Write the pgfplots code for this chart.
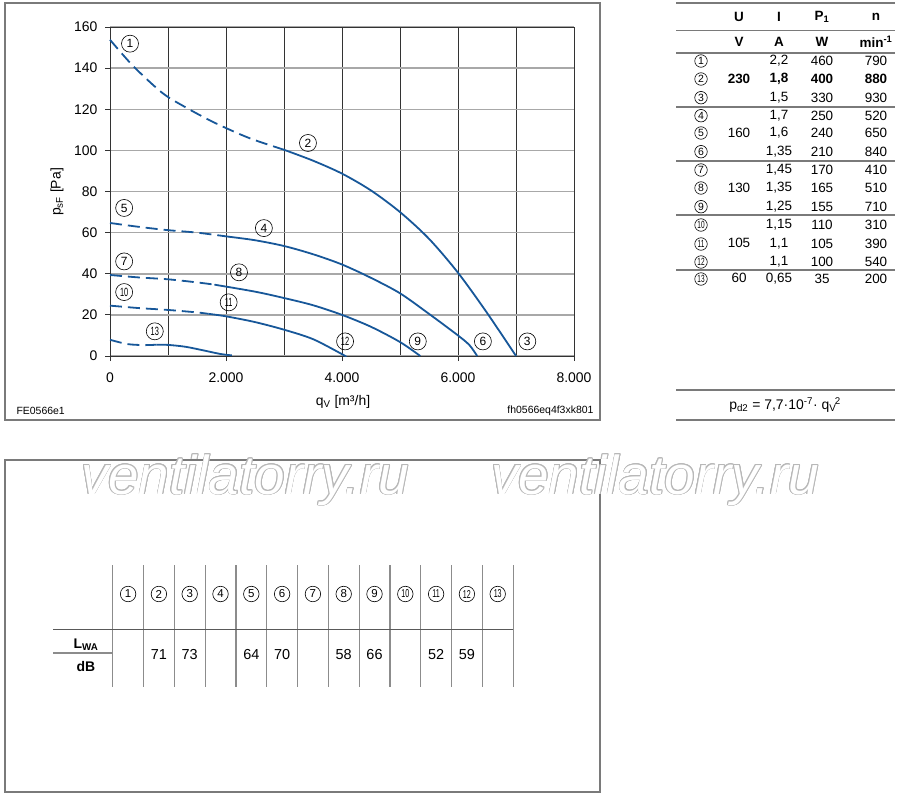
\documentclass[border=0pt]{standalone}
\usepackage{pgfplots}
\pgfplotsset{compat=1.18}
\usetikzlibrary{calc}
\usepackage{fontspec}
\setmainfont{Liberation Sans}
\usepackage{graphicx}
\definecolor{curve}{HTML}{175799}
\definecolor{frame}{HTML}{7A7A7A}
\definecolor{hgrid}{HTML}{A8A8A8}
\definecolor{vgrid}{HTML}{333333}
\newcommand\fs[1]{\fontsize{#1}{#1}\selectfont}
\newcommand\tw[1]{\scalebox{0.62}[1]{#1}}
\tikzset{cn/.style={circle,draw,line width=0.6bp,minimum size=#1,inner sep=0pt,font=\fs{12}}}

\begin{document}
\begin{tikzpicture}[x=1bp,y=-1bp]
\useasboundingbox (0,0) rectangle (900,797);
\draw[frame,line width=1.5bp] (5,3) rectangle (600,420);
\draw[frame,line width=1.5bp] (5,460) rectangle (600,792);

% watermark, drawn as an outline
\foreach \wx in {245,655} {
  \foreach \a in {0,22.5,...,337.5}
    \node[anchor=base,text=black!28,font=\fs{55}\itshape] at ($(\wx,494)+(\a:0.75)$) {ventilatorry.ru};
  \node[anchor=base,text=white,font=\fs{55}\itshape] at (\wx,494) {ventilatorry.ru};
}

\begin{axis}[at={(110bp,-356bp)},anchor=south west,scale only axis,
  width=464bp,height=329bp,
  xmin=0,xmax=8000,ymin=0,ymax=160,
  xtick={0,2000,4000,6000,8000},xticklabels={0,2.000,4.000,6.000,8.000},
  minor xtick={1000,3000,5000,7000},
  ytick={0,20,...,160},
  xmajorgrids,xminorgrids,ymajorgrids,
  x grid style={vgrid,line width=0.9bp},
  y grid style={hgrid,line width=1.5bp},
  minor grid style={vgrid,line width=0.9bp},
  axis line style={vgrid,line width=1bp},
  tick style={vgrid,line width=0.9bp},
  tick align=outside,major tick length=5bp,minor tick length=0pt,
  tick pos=left,
  ticklabel style={font=\fs{14}},
  xticklabel style={yshift=-8bp},
  yticklabel style={xshift=-4bp},
  /pgf/number format/assume math mode=true,
  clip=false]
% curve 1-2-3
\addplot[curve,line width=1.8bp,smooth,dash pattern=on 12bp off 6bp] coordinates {
  (0,153.8) (400,141) (900,128) (1300,121) (1800,113.5) (2400,106) (3000,100.3)};
\addplot[curve,line width=1.8bp,smooth] coordinates {
  (3000,100.3) (3500,95) (4000,88.7) (4500,80.5) (5000,70) (5500,57) (6000,40.5) (6500,21) (7000,0)};
% curve 4-5-6
\addplot[curve,line width=1.8bp,smooth,dash pattern=on 12bp off 6bp] coordinates {
  (0,64.7) (500,62.8) (1000,61.2) (1500,60) (2050,58)};
\addplot[curve,line width=1.8bp,smooth] coordinates {
  (2050,58) (2500,56.3) (3000,53.5) (3500,49.5) (4000,44.5) (4500,38) (5000,30.5) (5500,20.5) (6000,10) (6200,5.2) (6330,0)};
% curve 7-8-9
\addplot[curve,line width=1.8bp,smooth,dash pattern=on 12bp off 6bp] coordinates {
  (0,39.4) (500,38.2) (1000,37.3) (1500,35.8) (1800,34.7)};
\addplot[curve,line width=1.8bp,smooth] coordinates {
  (1800,34.7) (2500,31.3) (3000,28.2) (3500,24.7) (4000,20) (4500,14.2) (5000,6.8) (5350,0)};
% curve 10-11-12
\addplot[curve,line width=1.8bp,smooth,dash pattern=on 12bp off 6bp] coordinates {
  (0,24.5) (500,23.3) (1000,22.4) (1500,21.2) (1700,20.5)};
\addplot[curve,line width=1.8bp,smooth] coordinates {
  (1700,20.5) (2000,19.3) (2500,16.5) (3000,12.8) (3500,8.2) (4000,0.9) (4050,0)};
% curve 13
\addplot[curve,line width=1.8bp,smooth,dash pattern=on 12bp off 6bp] coordinates {
  (0,7.9) (300,5.8) (600,5.3) (800,5.5)};
\addplot[curve,line width=1.8bp,smooth] coordinates {
  (800,5.5) (1000,5.4) (1300,4.5) (1600,2.8) (1900,1) (2100,0.3)};

\node[cn=17bp] at (axis cs:345,151.9) {1};
\node[cn=17bp] at (axis cs:3413,103.6) {2};
\node[cn=17bp] at (axis cs:7195,7.1) {3};
\node[cn=17bp] at (axis cs:2653,62.2) {4};
\node[cn=17bp] at (axis cs:244,72) {5};
\node[cn=17bp] at (axis cs:6429,7.1) {6};
\node[cn=17bp] at (axis cs:244,46) {7};
\node[cn=17bp] at (axis cs:2224,40.7) {8};
\node[cn=17bp] at (axis cs:5307,7.1) {9};
\node[cn=17bp] at (axis cs:244,31.1) {\tw{10}};
\node[cn=17bp] at (axis cs:2046,26.1) {\tw{11}};
\node[cn=17bp] at (axis cs:4053,7.1) {\tw{12}};
\node[cn=17bp] at (axis cs:772,12) {\tw{13}};
\end{axis}

\node[rotate=90,font=\fs{14}] at (57,192) {p\textsubscript{sF} [Pa]};
\node[font=\fs{14}] at (343,402) {q\textsubscript{V} [m³/h]};
\node[font=\fs{10.5},anchor=west] at (13,411) {FE0566e1};
\node[font=\fs{10.5},anchor=east] at (597,411) {fh0566eq4f3xk801};

% right table
\foreach \ly in {3,30.5,53,107,161,215,270,390,420}
  \draw[frame,line width=1.2bp] (676,\ly) -- (895,\ly);
\begin{scope}[every node/.style={font=\fs{13.5}\bfseries}]
\node at (739,17) {U};
\node at (779,17) {I};
\node at (822,17) {P\textsubscript{1}};
\node at (876,17) {n};
\node at (739,42) {V};
\node at (779,42) {A};
\node at (822,42) {W};
\node at (876,42) {min\textsuperscript{-1}};
\node at (739,79) {230};
\node at (779,79) {1,8};
\node at (822,79) {400};
\node at (876,79) {880};
\end{scope}
\foreach \ry/\rc/\ri/\rp/\rn in {61/1/{2,2}/460/790,97.7/3/{1,5}/330/930,
    115.7/4/{1,7}/250/520,133/5/{1,6}/240/650,151.7/6/{1,35}/210/840,
    170/7/{1,45}/170/410,188/8/{1,35}/165/510,206.7/9/{1,25}/155/710,
    225/10/{1,15}/110/310,244/11/{1,1}/105/390,262/12/{1,1}/100/540,
    279/13/{0,65}/35/200} {
  \node[font=\fs{13.5}] at (779,\ry) {\ri};
  \node[font=\fs{13.5}] at (822,\ry) {\rp};
  \node[font=\fs{13.5}] at (876,\ry) {\rn};
}
\foreach \ry/\rc in {61/1,79/2,97.7/3,115.7/4,133/5,151.7/6,170/7,188/8,206.7/9,
    225/10,244/11,262/12,279/13}
  \node[cn=12.5bp,font=\fs{10.5}] at (701,\ry) {\ifnum\rc>9 \tw{\rc}\else\rc\fi};
\node[font=\fs{13.5}] at (739,133) {160};
\node[font=\fs{13.5}] at (739,188) {130};
\node[font=\fs{13.5}] at (739,243) {105};
\node[font=\fs{13.5}] at (739,278) {60};
\node[font=\fs{14}] at (785,405)
  {p\textsubscript{d2} = 7,7·10\textsuperscript{-7}· q\textsubscript{V}\kern-1.5bp\textsuperscript{2}};

% sound table
\foreach \k in {0,...,13}
  \draw[black!45,line width=1.2bp] ({112.7+30.8*\k},565) -- ({112.7+30.8*\k},687);
\draw[black!65,line width=1bp] (53,629) -- (513,629);
\draw[black!45,line width=1.2bp] (53,653) -- (112.7,653);
\foreach \k in {1,...,13}
  \node[cn=15.5bp,font=\fs{11.5}] at ({128.1+30.8*(\k-1)},594) {\ifnum\k>9 \tw{\k}\else\k\fi};
\foreach \k/\v in {2/71,3/73,5/64,6/70,8/58,9/66,11/52,12/59}
  \node[font=\fs{14.5}] at ({128.1+30.8*(\k-1)},655) {\v};
\node[font=\fs{14}\bfseries] at (86,645) {L\textsubscript{WA}};
\node[font=\fs{14}\bfseries] at (86,667) {dB};
\end{tikzpicture}
\end{document}
